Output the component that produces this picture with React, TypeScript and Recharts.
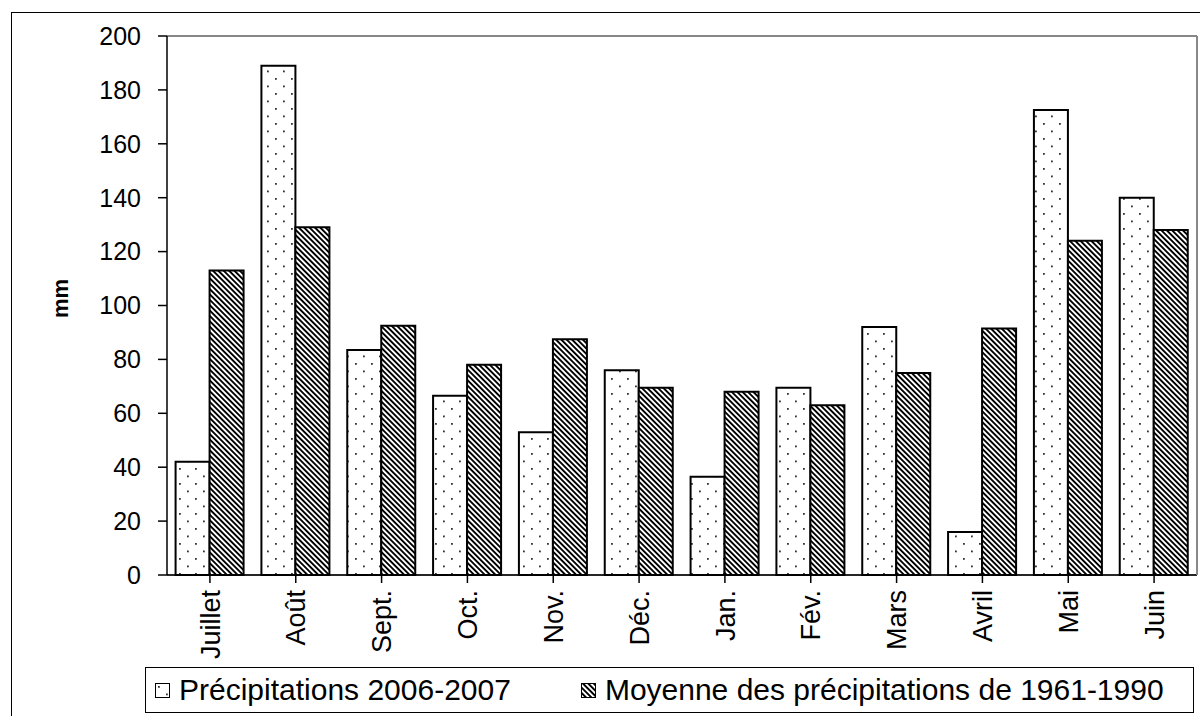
import React from "react";
import {
  Bar,
  BarChart,
  CartesianGrid,
  Legend,
  ReferenceLine,
  XAxis,
  YAxis,
} from "recharts";

const months = [
  "Juillet",
  "Août",
  "Sept.",
  "Oct.",
  "Nov.",
  "Déc.",
  "Jan.",
  "Fév.",
  "Mars",
  "Avril",
  "Mai",
  "Juin",
];
const precip20062007 = [42, 189, 83.5, 66.5, 53, 76, 36.5, 69.5, 92, 16, 172.5, 140];
const moyenne19611990 = [113, 129, 92.5, 78, 87.5, 69.5, 68, 63, 75, 91.5, 124, 128];
const yTicks = [0, 20, 40, 60, 80, 100, 120, 140, 160, 180, 200];
const seriesNames = [
  "Précipitations 2006-2007",
  "Moyenne des précipitations de 1961-1990",
];

const data = months.map((month, i) => ({
  month,
  precip: precip20062007[i],
  moyenne: moyenne19611990[i],
}));

const FONT = '"Liberation Sans", Arial, sans-serif';

function Patterns({ suffix = "" }: { suffix?: string }) {
  return (
    <defs>
      <pattern
        id={"dots" + suffix}
        patternUnits="userSpaceOnUse"
        width={16}
        height={15}
      >
        <rect width={16} height={15} fill="#fff" />
        <rect x={3} y={3} width={1.8} height={1.8} fill="#333" />
        <rect x={11} y={10.5} width={1.8} height={1.8} fill="#333" />
      </pattern>
      <pattern
        id={"hatch" + suffix}
        patternUnits="userSpaceOnUse"
        width={3.8}
        height={10}
        patternTransform="rotate(-45)"
      >
        <rect width={3.8} height={10} fill="#fff" />
        <rect width={1.9} height={10} fill="#000" />
      </pattern>
    </defs>
  );
}

const MonthTick = (props: any) => {
  const { x, y, payload } = props;
  return (
    <text
      transform={`translate(${x},${y}) rotate(-90)`}
      textAnchor="end"
      dy="0.36em"
      fontSize={27}
      fontFamily={FONT}
      fill="#000"
    >
      {payload.value}
    </text>
  );
};

const AxisTitle = (props: any) => {
  const { viewBox } = props;
  const cx = viewBox.x + 60;
  const cy = viewBox.y + viewBox.height / 2 - 7;
  return (
    <text
      transform={`translate(${cx},${cy}) rotate(-90)`}
      textAnchor="middle"
      dy="0.36em"
      fontSize={22}
      fontWeight="bold"
      fontFamily={FONT}
      fill="#000"
    >
      mm
    </text>
  );
};

const LegendIcon = ({ fill, suffix }: { fill: string; suffix: string }) => (
  <svg width={15} height={15} style={{ marginRight: 9 }}>
    <Patterns suffix={suffix} />
    <rect x={0.5} y={0.5} width={14} height={14} fill={fill} stroke="#000" />
  </svg>
);

const renderLegend = () => (
  <div
    style={{
      boxSizing: "border-box",
      height: 46,
      border: "1px solid #000",
      display: "flex",
      alignItems: "center",
      paddingLeft: 9,
      fontFamily: FONT,
      fontSize: 30,
      color: "#000",
      whiteSpace: "nowrap",
    }}
  >
    <LegendIcon fill="url(#dotsL)" suffix="L" />
    <span>{seriesNames[0]}</span>
    <span style={{ width: 70 }} />
    <LegendIcon fill="url(#hatchL)" suffix="L" />
    <span>{seriesNames[1]}</span>
  </div>
);

export default function App() {
  return (
    <div
      style={{
        position: "fixed",
        left: 0,
        top: 0,
        width: 1200,
        height: 716,
        background: "#fff",
        overflow: "hidden",
      }}
    >
      <div
        style={{
          position: "absolute",
          left: 11,
          top: 12,
          width: 1200,
          height: 720,
          border: "1px solid #000",
        }}
      />
      <div style={{ position: "absolute", left: 0, top: 0 }}>
        <BarChart
          width={1200}
          height={716}
          data={data}
          margin={{ top: 36, right: 0, bottom: 3, left: 0 }}
          barCategoryGap="10%"
          barGap={0}
        >
          <Patterns />
          <CartesianGrid vertical={false} stroke="#333" strokeWidth={1} />
          <XAxis
            dataKey="month"
            height={92}
            interval={0}
            tick={<MonthTick />}
            tickSize={8}
            tickMargin={7}
            axisLine={{ stroke: "#000", strokeWidth: 1.5 }}
            tickLine={{ stroke: "#000", strokeWidth: 1.5 }}
          />
          <YAxis
            yAxisId="left"
            width={167}
            domain={[0, 200]}
            ticks={yTicks}
            interval={0}
            tickSize={9}
            tickMargin={17}
            tick={{ fontSize: 25, fontFamily: FONT, fill: "#000" }}
            axisLine={{ stroke: "#000", strokeWidth: 1.5 }}
            tickLine={{ stroke: "#000", strokeWidth: 1.5 }}
            label={<AxisTitle />}
          />
          <YAxis
            yAxisId="right"
            orientation="right"
            width={3}
            domain={[0, 200]}
            tick={false}
            tickLine={false}
            axisLine={{ stroke: "#888", strokeWidth: 2 }}
          />
          <ReferenceLine yAxisId="left" y={200} stroke="#888" strokeWidth={2} />
          <Bar
            yAxisId="left"
            dataKey="precip"
            name={seriesNames[0]}
            fill="url(#dots)"
            stroke="#000"
            strokeWidth={2}
            isAnimationActive={false}
          />
          <Bar
            yAxisId="left"
            dataKey="moyenne"
            name={seriesNames[1]}
            fill="url(#hatch)"
            stroke="#000"
            strokeWidth={2}
            isAnimationActive={false}
          />
          <Legend
            verticalAlign="bottom"
            content={renderLegend}
            wrapperStyle={{ left: 145, width: 1049, bottom: 3 }}
          />
        </BarChart>
      </div>
    </div>
  );
}
